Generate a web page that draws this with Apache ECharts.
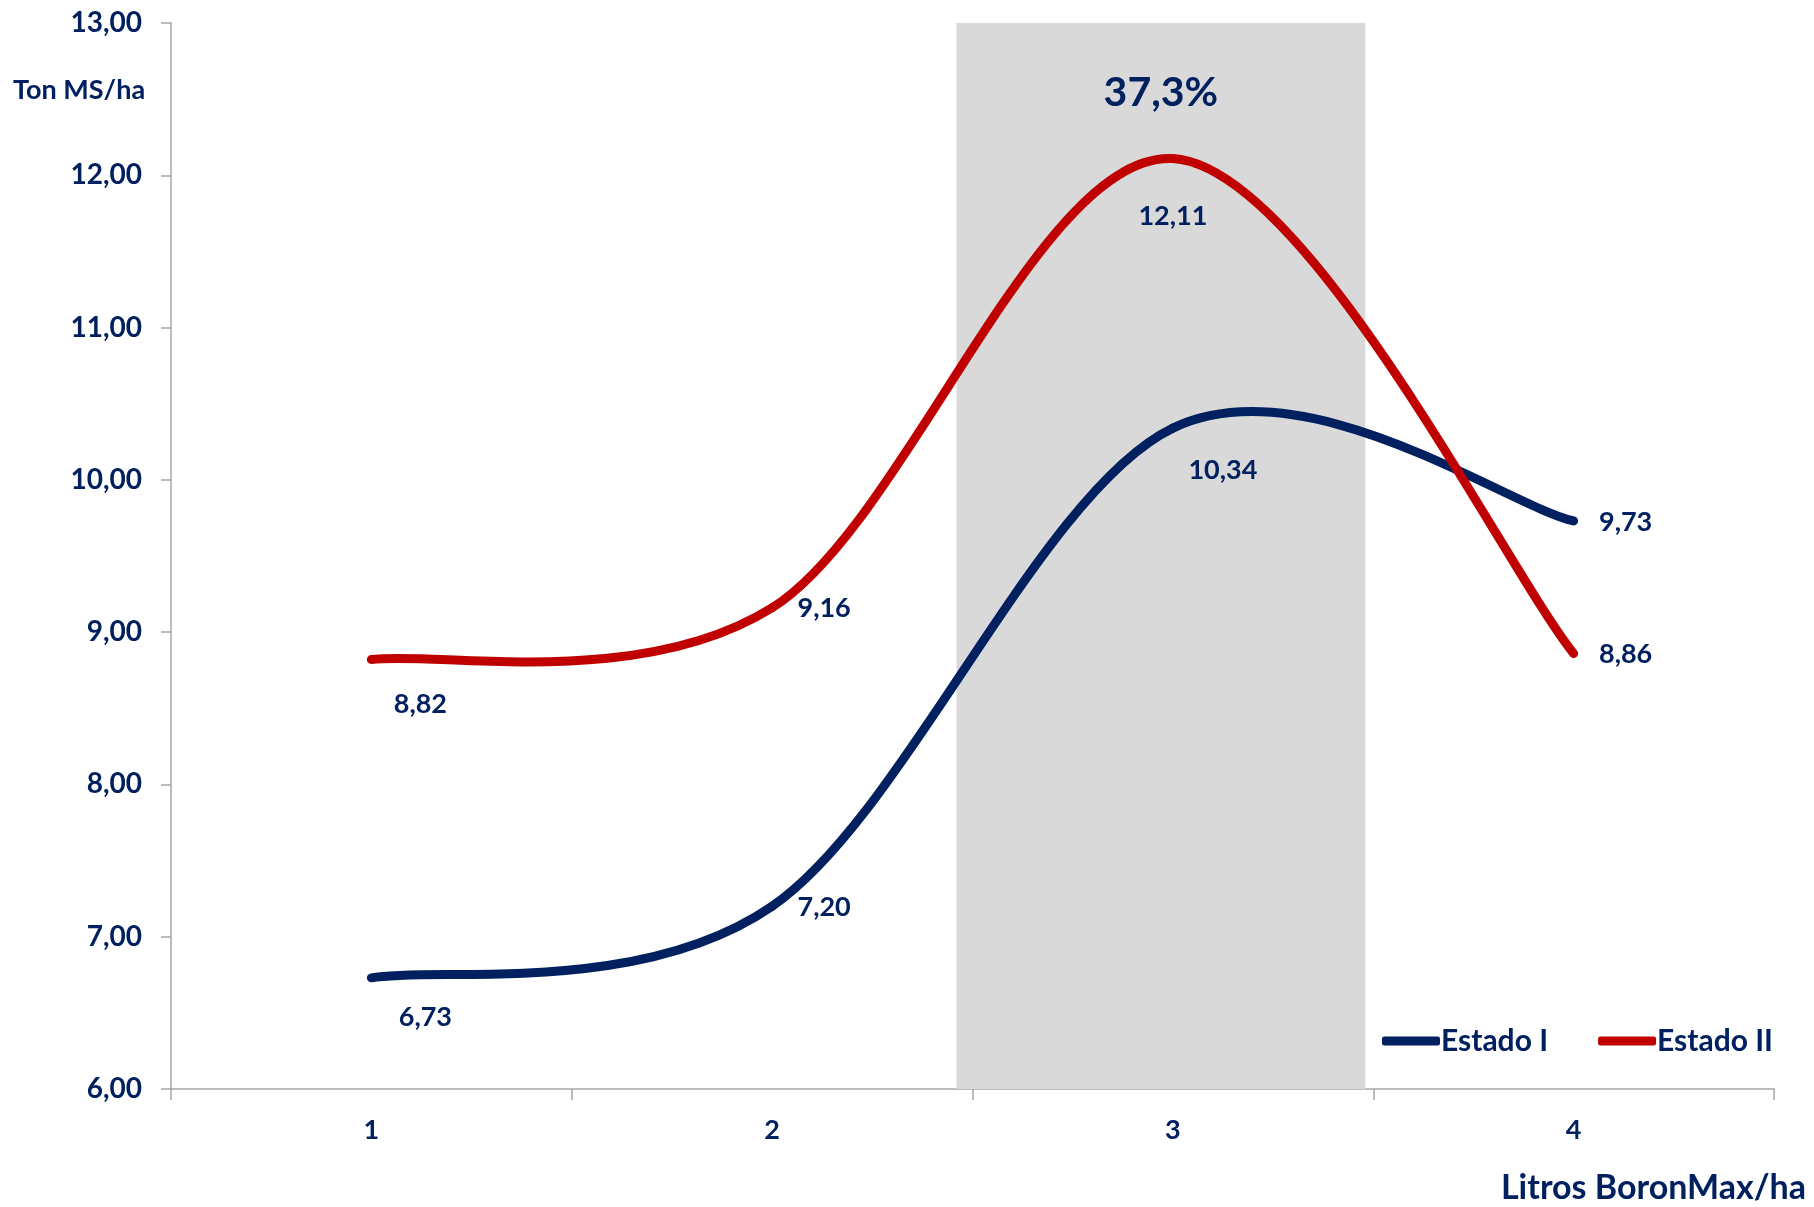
<!DOCTYPE html>
<html>
<head>
<meta charset="utf-8">
<script src="https://cdn.jsdelivr.net/npm/echarts@6/dist/echarts.min.js"></script>
<style>
  html, body { margin: 0; padding: 0; background: #fff; }
  #chart { width: 1814px; height: 1207px; }
</style>
</head>
<body>
<div id="chart"></div>
<script>
const categories = ["1", "2", "3", "4"];
const estadoI = [6.73, 7.20, 10.34, 9.73];
const estadoII = [8.82, 9.16, 12.11, 8.86];
const highlightIndex = 2;
const highlightText = "37,3%";
const yMin = 6;
const yMax = 13;
const yStep = 1;

const NAVY = "#002060";
const RED = "#C00000";
const GRAY = "#A6A6A6";
const FONT = "Lato, 'Open Sans', sans-serif";
const LABEL_FONT = "bold 27px " + FONT;

// label offsets [dx, dy] relative to each point
const offsI = [[54, 39], [52, 1], [50, 42], [52, 1]];
const offsII = [[49, 45], [52, 1], [0, 58], [52, 1]];

const fmtNum = (v) => v.toFixed(2).replace(".", ",");

// Excel-like smoothed line: catmull-rom segments turned into cubic beziers
function smoothSeries(name, values, color, offs) {
  return {
    name,
    type: "custom",
    z: 5,
    itemStyle: { color },
    encode: { x: 0, y: 1 },
    data: values.map((v, i) => [i, v]),
    renderItem: (params, api) => {
      const i = params.dataIndex;
      const pts = values.map((v, k) => api.coord([k, v]));
      const p = pts[i];
      const children = [];
      if (i < pts.length - 1) {
        const p0 = pts[Math.max(0, i - 1)];
        const p2 = pts[i + 1];
        const p3 = pts[Math.min(pts.length - 1, i + 2)];
        const c1 = [p[0] + (p2[0] - p0[0]) / 6, p[1] + (p2[1] - p0[1]) / 6];
        const c2 = [p2[0] - (p3[0] - p[0]) / 6, p2[1] - (p3[1] - p[1]) / 6];
        children.push({
          type: "bezierCurve",
          shape: { x1: p[0], y1: p[1], cpx1: c1[0], cpy1: c1[1], cpx2: c2[0], cpy2: c2[1], x2: p2[0], y2: p2[1] },
          style: { stroke: color, lineWidth: 9, lineCap: "round", fill: null },
        });
      }
      children.push({
        type: "text",
        z2: 10,
        style: {
          x: p[0] + offs[i][0],
          y: p[1] + offs[i][1],
          text: fmtNum(values[i]),
          fill: NAVY,
          font: LABEL_FONT,
          align: "center",
          verticalAlign: "middle",
        },
      });
      return { type: "group", children };
    },
  };
}

const chart = echarts.init(document.getElementById("chart"));
chart.setOption({
  animation: false,
  grid: { left: 171, right: 40, top: 23, bottom: 118 },
  legend: {
    data: ["Estado I", "Estado II"],
    left: 1377,
    top: 1021,
    icon: "roundRect",
    itemWidth: 58,
    itemHeight: 9,
    itemGap: 50,
    textStyle: { color: NAVY, fontFamily: FONT, fontWeight: "bold", fontSize: 30, padding: [0, 0, 0, -4] },
  },
  xAxis: [
    {
      type: "category",
      data: categories,
      boundaryGap: true,
      axisLine: { lineStyle: { color: GRAY, width: 1.5 } },
      axisTick: { show: true, length: 11, lineStyle: { color: GRAY, width: 1.5 } },
      axisLabel: { margin: 28, color: NAVY, fontFamily: FONT, fontWeight: "bold", fontSize: 27 },
      splitLine: { show: false },
    },
  ],
  yAxis: [
    {
      type: "value",
      min: yMin,
      max: yMax,
      interval: yStep,
      axisLine: { show: true, lineStyle: { color: GRAY, width: 1.5 } },
      axisTick: { show: true, length: 10, lineStyle: { color: GRAY, width: 1.5 } },
      axisLabel: { margin: 29, color: NAVY, fontFamily: FONT, fontWeight: "bold", fontSize: 28, formatter: fmtNum },
      splitLine: { show: false },
    },
  ],
  series: [
    {
      name: "band",
      type: "custom",
      silent: true,
      z: 1,
      encode: { x: 0, y: 1 },
      data: [[highlightIndex, yMax]],
      renderItem: (params, api) => {
        const top = api.coord([api.value(0), api.value(1)]);
        const bottom = api.coord([api.value(0), yMin]);
        const w = api.size([1, 0])[0] * 1.02;
        const cx = top[0] - 12;
        return {
          type: "group",
          children: [
            {
              type: "rect",
              shape: { x: cx - w / 2, y: top[1], width: w, height: bottom[1] - top[1] },
              style: { fill: "#D9D9D9" },
            },
            {
              type: "text",
              style: {
                x: cx,
                y: top[1] + 70,
                text: highlightText,
                fill: NAVY,
                font: "bold 41px " + FONT,
                align: "center",
                verticalAlign: "middle",
              },
            },
          ],
        };
      },
    },
    smoothSeries("Estado I", estadoI, NAVY, offsI),
    smoothSeries("Estado II", estadoII, RED, offsII),
  ],
  graphic: [
    {
      type: "text",
      left: 13,
      top: 77,
      style: { text: "Ton MS/ha", fill: NAVY, font: "bold 27px " + FONT },
    },
    {
      type: "text",
      right: 8,
      top: 1171,
      style: { text: "Litros BoronMax/ha", fill: NAVY, font: "bold 34px " + FONT },
    },
  ],
});
</script>
</body>
</html>
